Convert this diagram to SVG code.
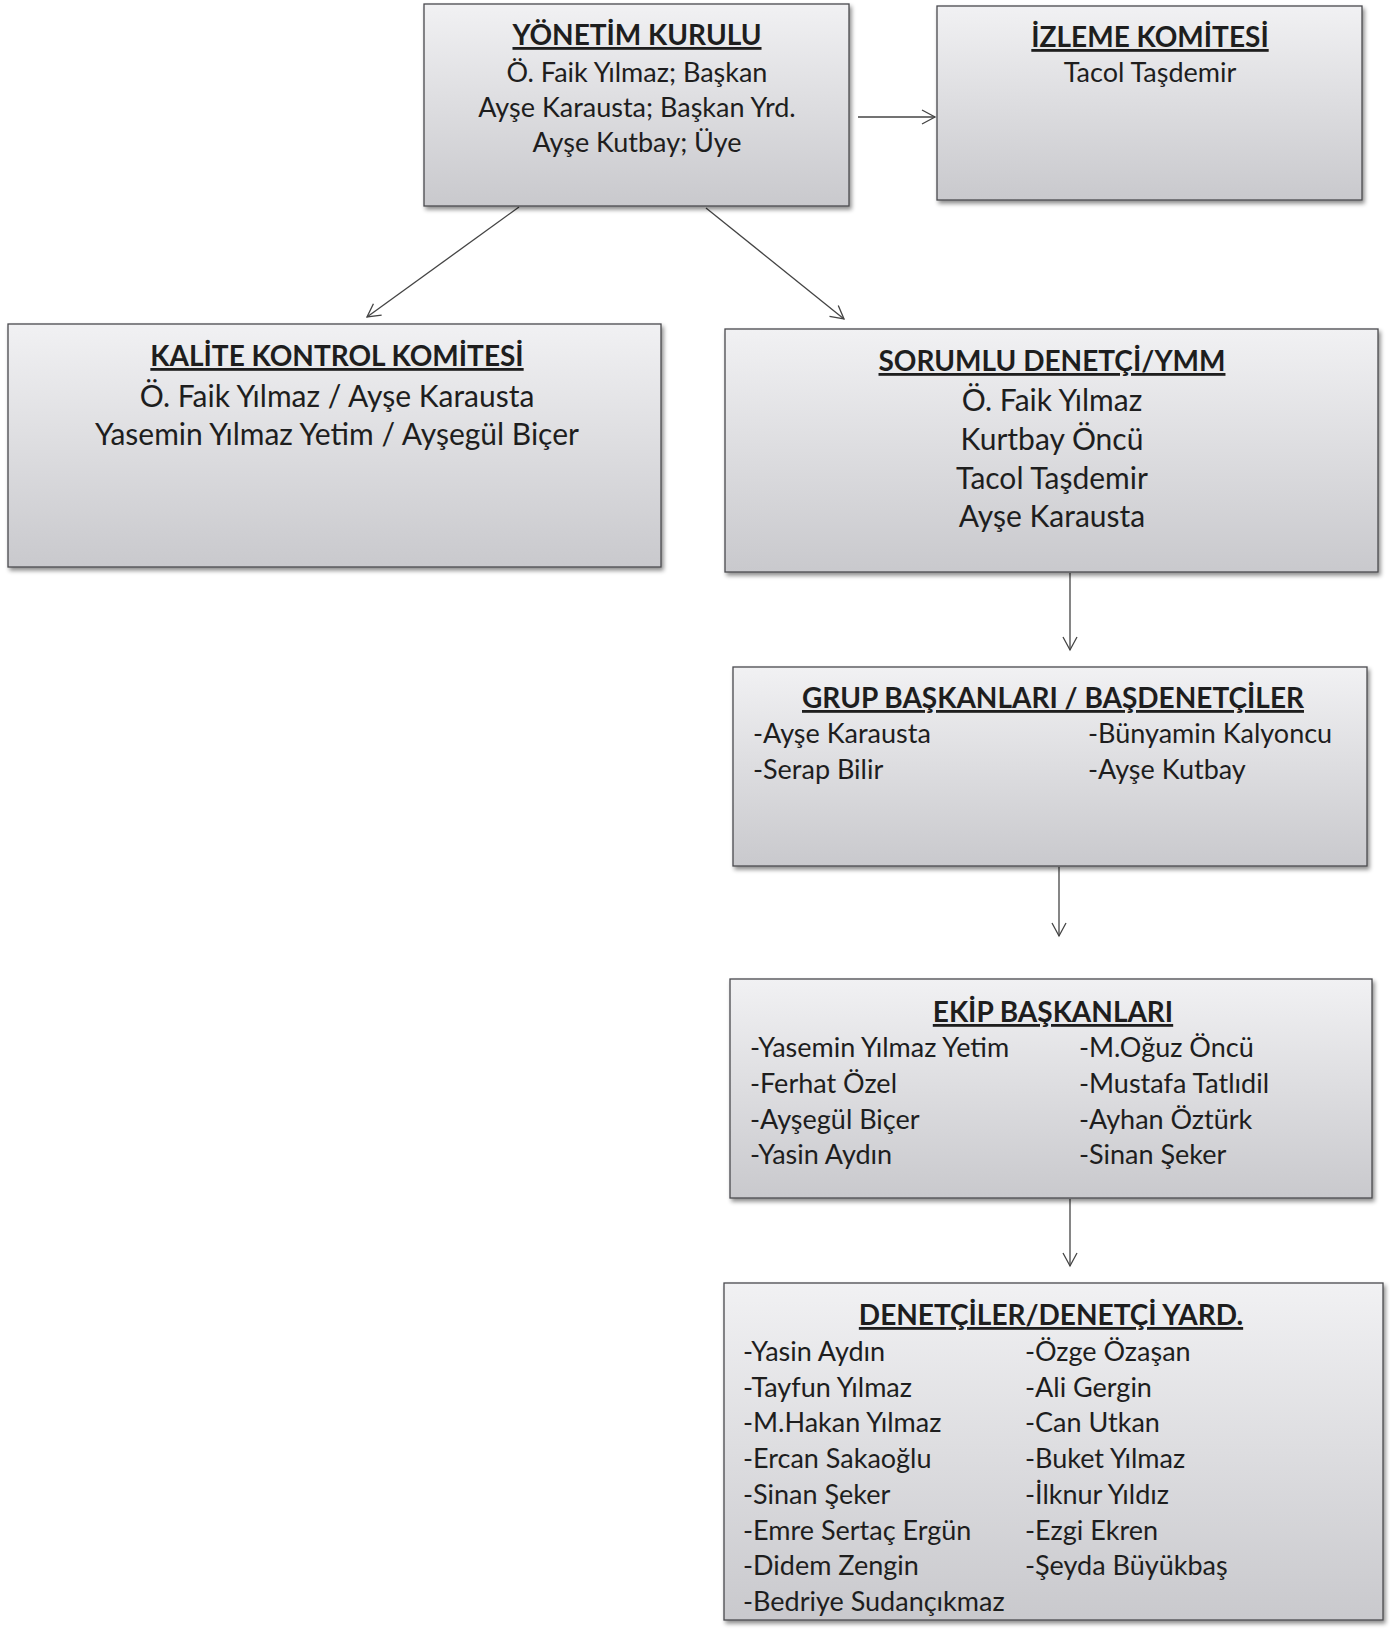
<svg xmlns="http://www.w3.org/2000/svg" width="1390" height="1629" viewBox="0 0 1390 1629">
<style>
.box{fill:url(#g);stroke:#4a4a4e;stroke-width:1.3;filter:url(#sh)}
text{font-family:Lato,"Liberation Sans",sans-serif;fill:#1e1e1e;font-size:27px}
.t{font-weight:bold;text-anchor:middle;text-decoration:underline;font-size:28px}
.c{text-anchor:middle}
.b{font-size:30px}
.con{stroke:#444;stroke-width:1.3;fill:none;marker-end:url(#ah)}
</style>
<defs>
<linearGradient id="g" x1="0" y1="0" x2="0" y2="1">
<stop offset="0" stop-color="#f1f1f3"/>
<stop offset="1" stop-color="#c9c9cd"/>
</linearGradient>
<filter id="sh" x="-5%" y="-5%" width="110%" height="115%">
<feDropShadow dx="2" dy="3" stdDeviation="2" flood-color="#000" flood-opacity="0.45"/>
</filter>
<marker id="ah" markerWidth="18" markerHeight="18" refX="15" refY="9" orient="auto" markerUnits="userSpaceOnUse">
<path d="M2,2 L15,9 L2,16" fill="none" stroke="#444" stroke-width="1.3"/>
</marker>
</defs>
<rect width="1390" height="1629" fill="#fff"/>
<g id="connectors">
<line class="con" x1="858" y1="117" x2="935" y2="117"/>
<line class="con" x1="519" y1="207" x2="367" y2="317"/>
<line class="con" x1="706" y1="208" x2="844" y2="319"/>
<line class="con" x1="1070" y1="573" x2="1070" y2="650"/>
<line class="con" x1="1059" y1="867" x2="1059" y2="936"/>
<line class="con" x1="1070" y1="1199" x2="1070" y2="1266"/>
</g>
<g id="yonetim">
<rect class="box" x="424" y="4" width="425" height="202"/>
<text class="t" x="637" y="45">YÖNETİM KURULU</text>
<text class="c" x="637" y="82">Ö. Faik Yılmaz; Başkan</text>
<text class="c" x="637" y="117">Ayşe Karausta; Başkan Yrd.</text>
<text class="c" x="637" y="152">Ayşe Kutbay; Üye</text>
</g>
<g id="izleme">
<rect class="box" x="937" y="6" width="425" height="194"/>
<text class="t" x="1150" y="47">İZLEME KOMİTESİ</text>
<text class="c" x="1150" y="82">Tacol Taşdemir</text>
</g>
<g id="kalite">
<rect class="box" x="8" y="324" width="653" height="243"/>
<text class="t" x="337" y="366">KALİTE KONTROL KOMİTESİ</text>
<text class="c b" x="337" y="407">Ö. Faik Yılmaz / Ayşe Karausta</text>
<text class="c b" x="337" y="445">Yasemin Yılmaz Yetim / Ayşegül Biçer</text>
</g>
<g id="sorumlu">
<rect class="box" x="725" y="329" width="653" height="243"/>
<text class="t" x="1052" y="371">SORUMLU DENETÇİ/YMM</text>
<text class="c b" x="1052" y="411">Ö. Faik Yılmaz</text>
<text class="c b" x="1052" y="450">Kurtbay Öncü</text>
<text class="c b" x="1052" y="489">Tacol Taşdemir</text>
<text class="c b" x="1052" y="527">Ayşe Karausta</text>
</g>
<g id="grup">
<rect class="box" x="733" y="667" width="634" height="199"/>
<text class="t" x="1053" y="708">GRUP BAŞKANLARI / BAŞDENETÇİLER</text>
<text x="753" y="743">-Ayşe Karausta</text>
<text x="753" y="779">-Serap Bilir</text>
<text x="1088" y="743">-Bünyamin Kalyoncu</text>
<text x="1088" y="779">-Ayşe Kutbay</text>
</g>
<g id="ekip">
<rect class="box" x="730" y="979" width="642" height="219"/>
<text class="t" x="1053" y="1022">EKİP BAŞKANLARI</text>
<text x="750" y="1057">-Yasemin Yılmaz Yetim</text>
<text x="750" y="1093">-Ferhat Özel</text>
<text x="750" y="1129">-Ayşegül Biçer</text>
<text x="750" y="1164">-Yasin Aydın</text>
<text x="1079" y="1057">-M.Oğuz Öncü</text>
<text x="1079" y="1093">-Mustafa Tatlıdil</text>
<text x="1079" y="1129">-Ayhan Öztürk</text>
<text x="1079" y="1164">-Sinan Şeker</text>
</g>
<g id="denetciler">
<rect class="box" x="724" y="1283" width="659" height="337"/>
<text class="t" x="1051" y="1325">DENETÇİLER/DENETÇİ YARD.</text>
<text x="743" y="1361">-Yasin Aydın</text>
<text x="743" y="1397">-Tayfun Yılmaz</text>
<text x="743" y="1432">-M.Hakan Yılmaz</text>
<text x="743" y="1468">-Ercan Sakaoğlu</text>
<text x="743" y="1504">-Sinan Şeker</text>
<text x="743" y="1540">-Emre Sertaç Ergün</text>
<text x="743" y="1575">-Didem Zengin</text>
<text x="743" y="1611">-Bedriye Sudançıkmaz</text>
<text x="1025" y="1361">-Özge Özaşan</text>
<text x="1025" y="1397">-Ali Gergin</text>
<text x="1025" y="1432">-Can Utkan</text>
<text x="1025" y="1468">-Buket Yılmaz</text>
<text x="1025" y="1504">-İlknur Yıldız</text>
<text x="1025" y="1540">-Ezgi Ekren</text>
<text x="1025" y="1575">-Şeyda Büyükbaş</text>
</g>
</svg>
